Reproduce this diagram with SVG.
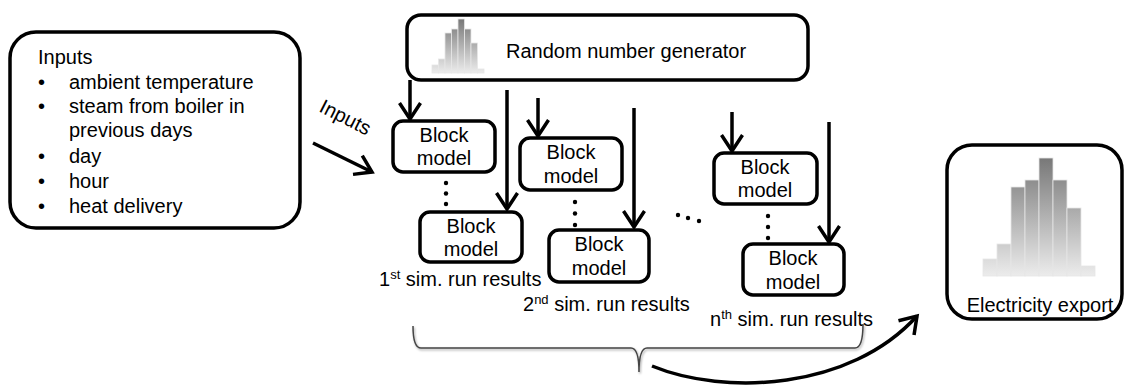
<svg xmlns="http://www.w3.org/2000/svg" width="1125" height="388" viewBox="0 0 1125 388">
<style>
.box{fill:#fff;stroke:#000;stroke-width:3.5}
.t{font-family:"Liberation Sans",Arial,sans-serif;font-size:20px;fill:#000}
.c{text-anchor:middle}
.ln{fill:none;stroke:#000;stroke-width:3.5}
.bar{stroke:#e6e6e6;stroke-width:0.8}
.dot{fill:#000}
</style>
<defs>
<marker id="chev" markerUnits="userSpaceOnUse" markerWidth="40" markerHeight="40" viewBox="-25 -20 40 40" refX="0" refY="0" orient="auto">
<path d="M-16,-10.5 L0,0 L-16,10.5" fill="none" stroke="#000" stroke-width="3.5"/>
</marker>
<linearGradient id="g1" gradientUnits="userSpaceOnUse" x1="0" y1="19" x2="0" y2="73">
<stop offset="0" stop-color="#787878"/><stop offset="1" stop-color="#ececec"/>
</linearGradient>
<linearGradient id="g2" gradientUnits="userSpaceOnUse" x1="0" y1="158" x2="0" y2="276">
<stop offset="0" stop-color="#787878"/><stop offset="1" stop-color="#ececec"/>
</linearGradient>
<filter id="sh" x="-5%" y="-20%" width="110%" height="160%">
<feDropShadow dx="1" dy="1.5" stdDeviation="1" flood-color="#000" flood-opacity="0.35"/>
</filter>
</defs>

<g id="inputs-box">
<rect class="box" x="10" y="32" width="290" height="196" rx="26"/>
<text class="t" x="38" y="64">Inputs</text>
<text class="t" x="38" y="89">•</text><text class="t" x="69" y="89">ambient temperature</text>
<text class="t" x="38" y="113">•</text><text class="t" x="69" y="113">steam from boiler in</text>
<text class="t" x="69" y="137">previous days</text>
<text class="t" x="38" y="163">•</text><text class="t" x="69" y="163">day</text>
<text class="t" x="38" y="188">•</text><text class="t" x="69" y="188">hour</text>
<text class="t" x="38" y="213">•</text><text class="t" x="69" y="213">heat delivery</text>
</g>

<g id="rng">
<rect class="box" x="407" y="15" width="401" height="65" rx="14"/>
<g fill="url(#g1)">
<rect class="bar" x="432" y="65" width="6.5" height="8"/>
<rect class="bar" x="438.5" y="59" width="6.5" height="14"/>
<rect class="bar" x="445" y="33" width="6.5" height="40"/>
<rect class="bar" x="451.5" y="29" width="6.5" height="44"/>
<rect class="bar" x="458" y="19" width="6.5" height="54"/>
<rect class="bar" x="464.5" y="29" width="6.5" height="44"/>
<rect class="bar" x="471" y="43" width="6.5" height="30"/>
<rect class="bar" x="477.5" y="69" width="6.5" height="4"/>
</g>
<text class="t" x="506" y="58">Random number generator</text>
</g>

<g id="block1a"><rect class="box" x="393" y="121" width="102" height="51" rx="10"/>
<text class="t c" x="444" y="142">Block</text><text class="t c" x="444" y="165">model</text></g>
<g id="block1b"><rect class="box" x="420" y="212" width="102" height="50" rx="10"/>
<text class="t c" x="471" y="233">Block</text><text class="t c" x="471" y="256">model</text></g>
<g id="block2a"><rect class="box" x="520" y="138" width="102" height="52" rx="10"/>
<text class="t c" x="571" y="159">Block</text><text class="t c" x="571" y="183">model</text></g>
<g id="block2b"><rect class="box" x="549" y="230" width="100" height="52" rx="10"/>
<text class="t c" x="599" y="251">Block</text><text class="t c" x="599" y="275">model</text></g>
<g id="block3a"><rect class="box" x="714" y="153" width="103" height="51" rx="10"/>
<text class="t c" x="765" y="174">Block</text><text class="t c" x="765" y="197">model</text></g>
<g id="block3b"><rect class="box" x="743" y="244" width="101" height="51" rx="10"/>
<text class="t c" x="793" y="265">Block</text><text class="t c" x="793" y="289">model</text></g>

<g id="labels">
<text class="t" x="379" y="286">1<tspan font-size="13" dy="-7">st</tspan><tspan dy="7"> sim. run results</tspan></text>
<text class="t" x="523" y="311">2<tspan font-size="13" dy="-7">nd</tspan><tspan dy="7"> sim. run results</tspan></text>
<text class="t" x="710" y="326">n<tspan font-size="13" dy="-7">th</tspan><tspan dy="7"> sim. run results</tspan></text>
<text class="t" font-size="18" transform="translate(318,111) rotate(27)">Inputs</text>
</g>

<g id="export">
<rect class="box" x="947" y="145" width="175" height="174" rx="25"/>
<g fill="url(#g2)">
<rect class="bar" x="983" y="259" width="14" height="17"/>
<rect class="bar" x="997" y="244" width="14" height="32"/>
<rect class="bar" x="1011" y="187" width="14" height="89"/>
<rect class="bar" x="1025" y="180" width="14" height="96"/>
<rect class="bar" x="1039" y="158" width="14" height="118"/>
<rect class="bar" x="1053" y="180" width="14" height="96"/>
<rect class="bar" x="1067" y="208" width="14" height="68"/>
<rect class="bar" x="1081" y="266" width="14" height="10"/>
</g>
<text class="t c" x="1040" y="312">Electricity export</text>
</g>

<g id="connectors">
<line class="ln" x1="313" y1="143" x2="372" y2="172" marker-end="url(#chev)"/>
<line class="ln" x1="410" y1="80" x2="410" y2="119" marker-end="url(#chev)"/>
<line class="ln" x1="507" y1="90" x2="507" y2="209" marker-end="url(#chev)"/>
<line class="ln" x1="538" y1="98" x2="538" y2="136" marker-end="url(#chev)"/>
<line class="ln" x1="634" y1="108" x2="634" y2="227" marker-end="url(#chev)"/>
<line class="ln" x1="732" y1="112" x2="732" y2="151" marker-end="url(#chev)"/>
<line class="ln" x1="829" y1="122" x2="829" y2="242" marker-end="url(#chev)"/>
<path class="ln" d="M652,366 C725,396 850,390 917,316" marker-end="url(#chev)"/>
<path d="M413,326 Q413,348 421,348 L631,348 Q639,348 639,372 Q639,348 647,348 L855,348 Q863,348 863,324" fill="none" stroke="#444" stroke-width="1.5" filter="url(#sh)"/>
<g class="dot">
<circle cx="446" cy="183" r="2.2"/><circle cx="446" cy="193.5" r="2.2"/><circle cx="446" cy="204" r="2.2"/>
<circle cx="575" cy="202" r="2.2"/><circle cx="575" cy="213.5" r="2.2"/><circle cx="575" cy="225" r="2.2"/>
<circle cx="768" cy="216" r="2.2"/><circle cx="768" cy="227" r="2.2"/><circle cx="768" cy="238" r="2.2"/>
<circle cx="678" cy="215" r="2.2"/><circle cx="688" cy="218" r="2.2"/><circle cx="699" cy="221" r="2.2"/>
</g>
</g>
</svg>
